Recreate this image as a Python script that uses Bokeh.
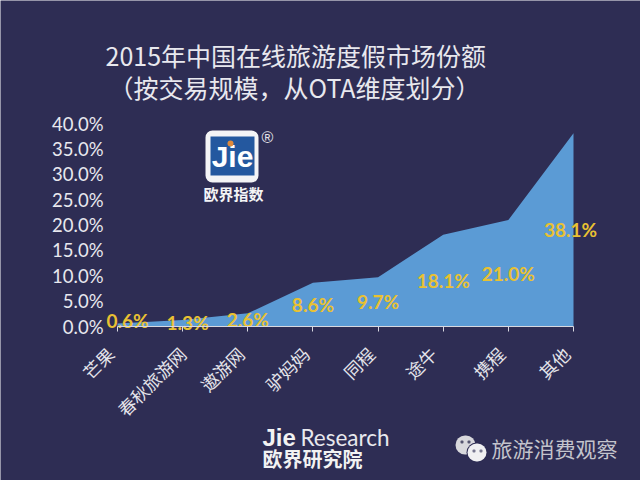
from bokeh.plotting import figure
from bokeh.models import Label, BoxAnnotation, ColumnDataSource, FixedTicker
from bokeh.core.properties import value
from bokeh.embed import file_html
from bokeh.resources import INLINE
import math

categories = ["芒果", "春秋旅游网", "遨游网", "驴妈妈", "同程", "途牛", "携程", "其他"]
shares = [0.6, 1.3, 2.6, 8.6, 9.7, 18.1, 21.0, 38.1]
share_labels = ["0.6%", "1.3%", "2.6%", "8.6%", "9.7%", "18.1%", "21.0%", "38.1%"]
label_dx = [10, 5, 0, 0, 0, 0, 0, -3]
label_dy = [-4, -1, 0, 0, 0, 0, 0, 0]
cat_dx = [-7, 0, -7, -7, -7, -10, -7, -7]
y_ticks = [0, 5, 10, 15, 20, 25, 30, 35, 40]
title_lines = ["2015年中国在线旅游度假市场份额", "（按交易规模，从OTA维度划分）"]

BG = "#2e2d54"
CJK = "Noto Sans CJK SC"
W, H = 640, 480
X0, X7, Y0, Y40 = 117.0, 573.0, 326.0, 123.0  # reference pixels of the plot area

positions = list(range(len(categories)))
ux = (X7 - X0) / 7
uy = (Y0 - Y40) / 40
p = figure(width=W, height=H, output_backend="svg", toolbar_location=None,
           x_range=(-X0 / ux, (W - X0) / ux), y_range=((Y0 - H) / uy, Y0 / uy),
           min_border=0,
           background_fill_color=BG, border_fill_color=BG, outline_line_color=None)
p.grid.visible = False

src = ColumnDataSource(dict(x=positions, y=shares, mid=[s / 2 for s in shares],
                            zero=[0] * len(shares), t=share_labels, dx=label_dx, dy=label_dy,
                            cat=categories, cdx=cat_dx))
p.varea(x="x", y1="zero", y2="y", source=src, fill_color="#5b9bd5")
p.text(x="x", y="mid", text="t", source=src, x_offset="dx", y_offset="dy",
       text_font=value("Lato"), text_font_style="bold", text_font_size="19px",
       text_color="#e9c132", text_align="center", text_baseline="middle")
p.text(x="x", y="zero", text="cat", source=src, x_offset="cdx", y_offset=24, angle=math.pi / 4,
       text_font=value(CJK), text_font_size="17.5px", text_color="#e4e4ea",
       text_align="right", text_baseline="middle")

xa = p.xaxis[0]
xa.fixed_location = 0
xa.bounds = (0, 7)
xa.ticker = FixedTicker(ticks=positions)
xa.major_label_overrides = {i: "" for i in positions}
xa.axis_line_color = "#d8d8e0"
xa.major_tick_line_color = "#d8d8e0"
xa.major_tick_in = 0
xa.major_tick_out = 5
xa.minor_tick_line_color = None

ya = p.yaxis[0]
ya.fixed_location = 0
ya.bounds = (0, 40)
ya.ticker = FixedTicker(ticks=y_ticks)
ya.major_label_overrides = {t: f"{t:.1f}%" for t in y_ticks}
ya.major_label_text_font = "Lato"
ya.major_label_text_font_size = "18.5px"
ya.major_label_text_color = "#e8e8ee"
ya.axis_line_color = None
ya.major_tick_line_color = None
ya.minor_tick_line_color = None
ya.major_label_standoff = 8


def label(text, x, y, size, color="#e8e8ee", font=CJK, style="normal", align="left"):
    p.add_layout(Label(x=x, y=H - y, x_units="screen", y_units="screen",
                       text=text, text_font=font, text_font_size=size, text_color=color,
                       text_font_style=style, text_align=align, text_baseline="middle"))


def box(l, r, t, b, color, radius=0):
    p.add_layout(BoxAnnotation(left=l, right=r, top=H - t, bottom=H - b,
                               left_units="screen", right_units="screen",
                               top_units="screen", bottom_units="screen",
                               fill_color=color, fill_alpha=1, line_color=None,
                               border_radius=radius, level="annotation"))


label(title_lines[0], 105, 54, "25px")
label(title_lines[1], 108, 86, "25px")

# logo
box(205, 258, 130, 182, "#f4f4f6", 7)
box(210, 254, 136, 175, "#24589f")
label("Jie", 232, 156, "30px", "#ffffff", "Liberation Sans", "bold", "center")
box(227, 233, 140, 146, "#e08a3c", 3)
label("®", 267, 137, "16px", "#e4e4ea", "Liberation Sans", "normal", "center")
label("欧界指数", 233, 193, "15px", "#f4f4f6", "Noto Sans CJK SC", "bold", "center")

# footer
label("Jie", 262, 437, "24px", "#f2f2f2", "Liberation Sans", "bold")
label("Research", 300, 437, "22.5px", "#e8e8ee", "Lato")
label("欧界研究院", 262, 458, "20px", "#f2f2f2", CJK, "bold")

# WeChat mark
box(455, 475, 435, 454, "#d8d8dc", 10)
box(466, 487, 442, 462, BG, 10)
box(467, 486, 443, 461, "#f0f0f2", 9)
for l, t, c in [(460, 440, "#55556f"), (467, 440, "#55556f"), (472, 449, "#777790"), (479, 449, "#777790")]:
    box(l, l + 3, t, t + 3, c, 1)
label("旅游消费观察", 491, 447, "21px", "#c4c4cc")

open("out.html", "w").write(file_html(p, INLINE))
